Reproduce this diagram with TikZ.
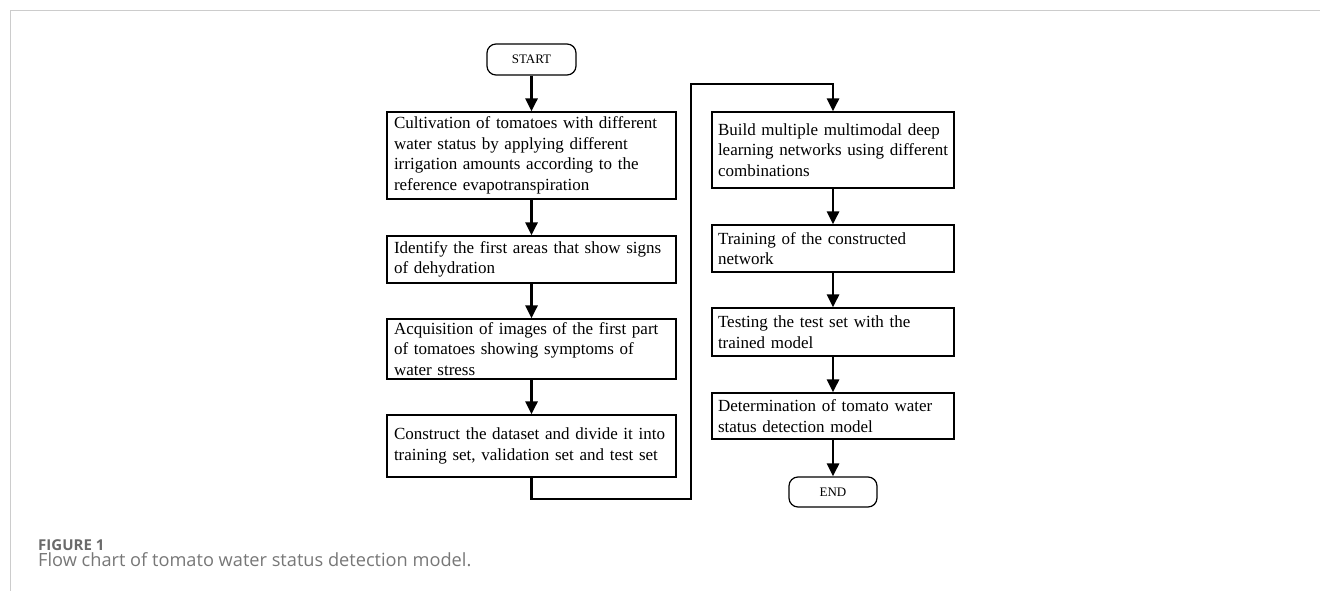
\documentclass[tikz,border=0pt]{standalone}
\usepackage{fontspec}
\setmainfont{Liberation Serif}
\newfontfamily\capfont{Open Sans}
\usetikzlibrary{arrows.meta}
\definecolor{framegray}{HTML}{CCCCCC}
\definecolor{capgray}{HTML}{777777}
\definecolor{figgray}{HTML}{6A6A6A}
\tikzset{
  boxbase/.style={draw, line width=1.2pt, align=left, inner ysep=0pt,
    font=\fontsize{17}{20.5}\selectfont},
  lbox/.style={boxbase, inner xsep=7pt, text width=275pt, minimum width=289pt},
  rbox/.style={boxbase, inner xsep=6pt, text width=230pt, minimum width=242pt},
  term/.style={draw, line width=1.2pt, rounded corners=9pt, inner sep=0pt,
    font=\fontsize{13}{15}\selectfont},
  arr/.style={line width=2.8pt, -{Triangle[length=13pt,width=12pt]}},
}
\begin{document}
\begin{tikzpicture}[x=1pt,y=-1pt]
\useasboundingbox (0,0) rectangle (1320,591);
% frame
\draw[framegray, line width=1pt] (10,591) -- (10,11) -- (1320,11);
% left column
\node[term, minimum width=89pt, minimum height=31pt] (start) at (531.5,59.5) {START};
\node[lbox, minimum height=87pt] (c1) at (531.5,155.5) {Cultivation of tomatoes with different\\water status by applying different\\irrigation amounts according to the\\reference evapotranspiration};
\node[lbox, minimum height=47pt] (c2) at (531.5,259.5) {Identify the first areas that show signs\\of dehydration};
\node[lbox, minimum height=60pt] (c3) at (531.5,349) {Acquisition of images of the first part\\of tomatoes showing symptoms of\\water stress};
\node[lbox, minimum height=62pt] (c4) at (531.5,446) {Construct the dataset and divide it into\\training set, validation set and test set};
% right column
\node[rbox, minimum height=76pt] (r1) at (833,150) {Build multiple multimodal deep\\\mbox{learning networks using different}\\combinations};
\node[rbox, minimum height=47pt] (r2) at (833,248.5) {Training of the constructed\\network};
\node[rbox, minimum height=48pt] (r3) at (833,332) {Testing the test set with the\\trained model};
\node[rbox, minimum height=46pt] (r4) at (833,416) {Determination of tomato water\\status detection model};
\node[term, minimum width=88pt, minimum height=30pt] (end) at (833,492) {END};
% connectors
\coordinate (p2) at (691,499);
\coordinate (p3) at (691,84);
\draw[arr] (start) -- (c1);
\draw[arr] (c1) -- (c2);
\draw[arr] (c2) -- (c3);
\draw[arr] (c3) -- (c4);
\draw[arr] (c4.south) |- (p2) -- (p3) -| (r1.north);
\draw[arr] (r1) -- (r2);
\draw[arr] (r2) -- (r3);
\draw[arr] (r3) -- (r4);
\draw[arr] (r4) -- (end);
% caption
\node[anchor=base west, inner sep=0pt, text=figgray, font=\capfont\bfseries\fontsize{15}{17}\selectfont] (figlabel) at (38,550) {FIGURE 1};
\node[anchor=base west, inner sep=0pt, text=capgray, font=\capfont\fontsize{18.2}{21}\selectfont] (caption) at (38,566) {Flow chart of tomato water status detection model.};
\end{tikzpicture}
\end{document}
